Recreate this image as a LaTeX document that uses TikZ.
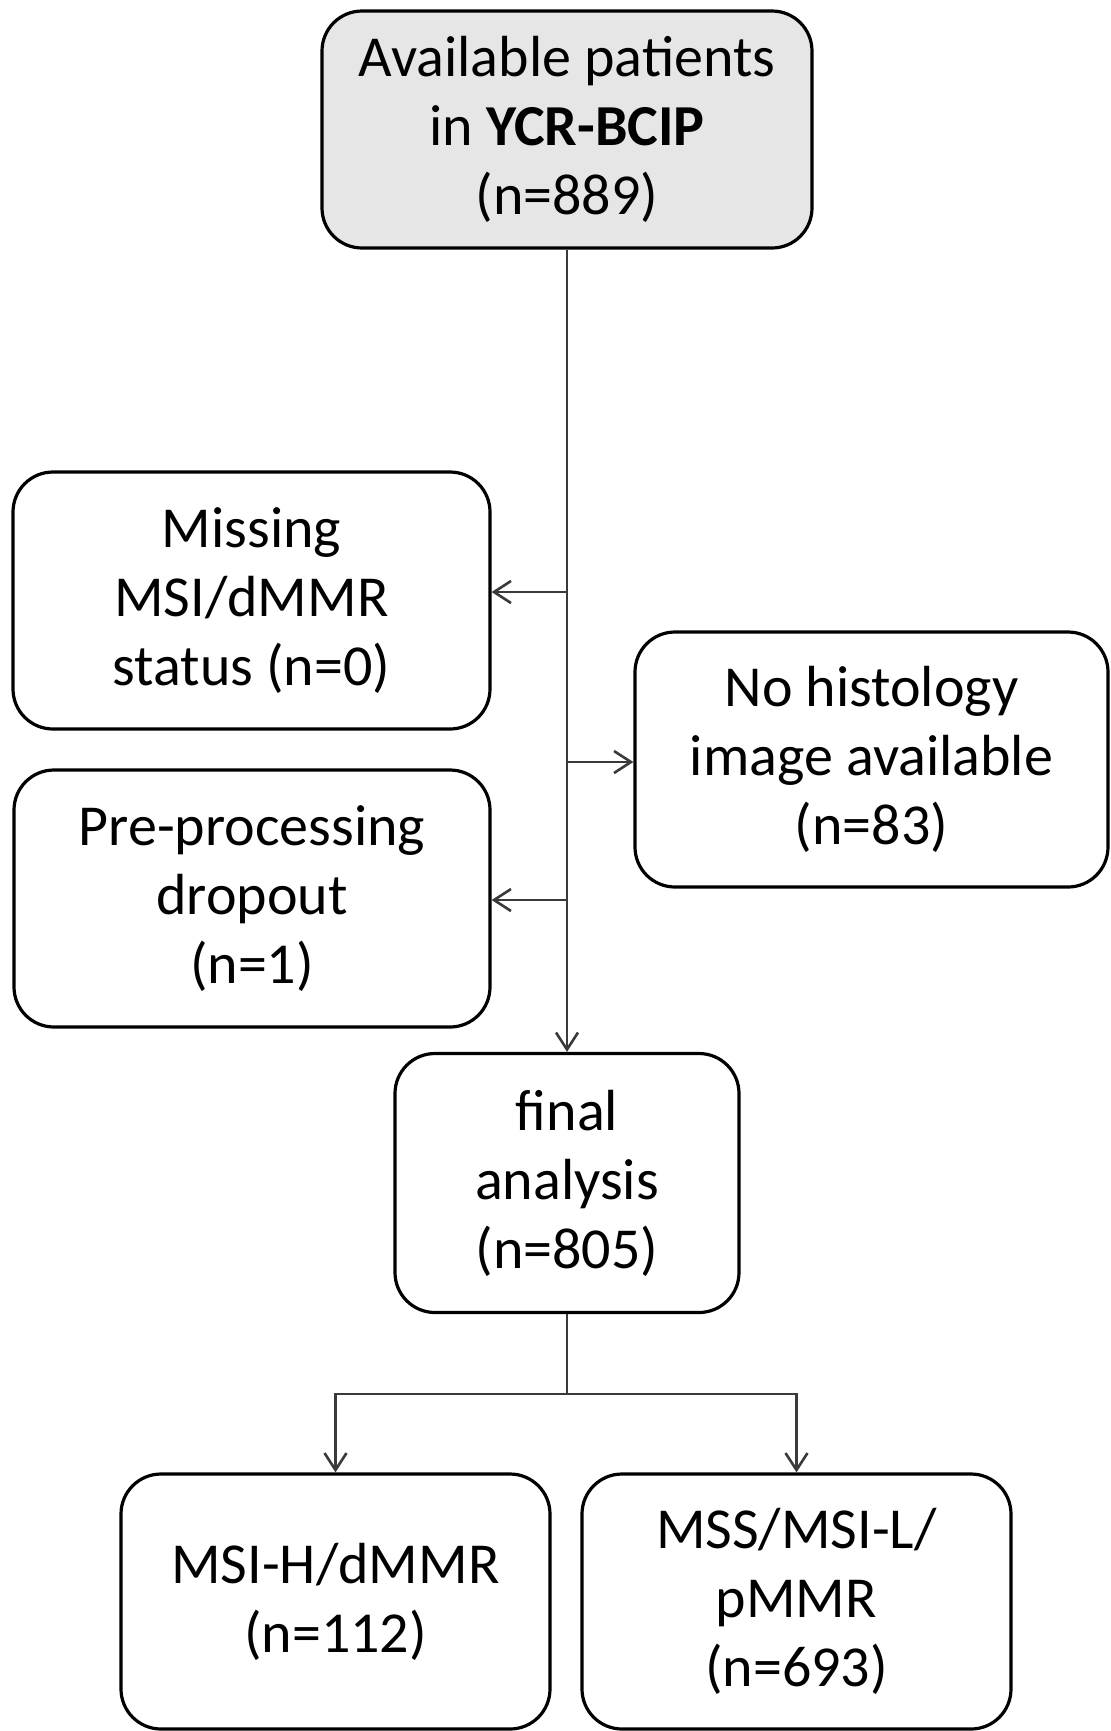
\documentclass[tikz,border=0pt]{standalone}
\usepackage{fontspec}
\setmainfont{Carlito}
\usetikzlibrary{arrows.meta}
\definecolor{boxgray}{HTML}{E6E6E6}
\definecolor{linegray}{HTML}{3A3A3A}
\begin{document}
\begin{tikzpicture}[x=0.5pt,y=-0.5pt,
  box/.style={draw=black, line width=1.6pt, rounded corners=20pt, align=center,
    font=\fontsize{29}{34.5}\selectfont, inner sep=0pt},
  link/.style={draw=linegray, line width=1.4pt},
  arr/.style={link, -{Straight Barb[length=8.5pt,width=11pt,line width=1.3pt]}}]
\useasboundingbox (0,0) rectangle (1110,1731);
\fill[white] (0,0) rectangle (1110,1731);

% boxes
\node[box, fill=boxgray, minimum width=245pt, minimum height=118.5pt] (top) at (567,129.5)
  {Available patients\\ in \textbf{YCR-BCIP}\\ (n=889)};
\node[box, minimum width=238.5pt, minimum height=128.5pt] (miss) at (251.5,600.5)
  {Missing\\ MSI/dMMR\\ status (n=0)};
\node[box, minimum width=236.5pt, minimum height=127.5pt] (hist) at (871.5,759.5)
  {No histology\\ image available\\ (n=83)};
\node[box, minimum width=238pt, minimum height=128.5pt] (pre) at (252,898.5)
  {Pre-processing\\ dropout\\ (n=1)};
\node[box, minimum width=172pt, minimum height=129.5pt] (final) at (567,1183)
  {final\\ analysis\\ (n=805)};
\node[box, minimum width=214.5pt, minimum height=127.5pt] (msih) at (335.5,1601.5)
  {MSI-H/dMMR\\ (n=112)};
\node[box, minimum width=214.5pt, minimum height=127.5pt] (mss) at (796.5,1601.5)
  {MSS/MSI-L/\\ pMMR\\ (n=693)};

% junctions on the main trunk
\coordinate (j1) at (567,592);
\coordinate (j2) at (567,762);
\coordinate (j3) at (567,900);
\coordinate (split) at (567,1394);

% connectors
\draw[arr] (top.south) -- (final.north);
\draw[arr] (j1) -- (j1 -| miss.east);
\draw[arr] (j2) -- (j2 -| hist.west);
\draw[arr] (j3) -- (j3 -| pre.east);
\draw[link] (final.south) -- (split);
\draw[arr] (split) -| (msih.north);
\draw[arr] (split) -| (mss.north);
\end{tikzpicture}
\end{document}
